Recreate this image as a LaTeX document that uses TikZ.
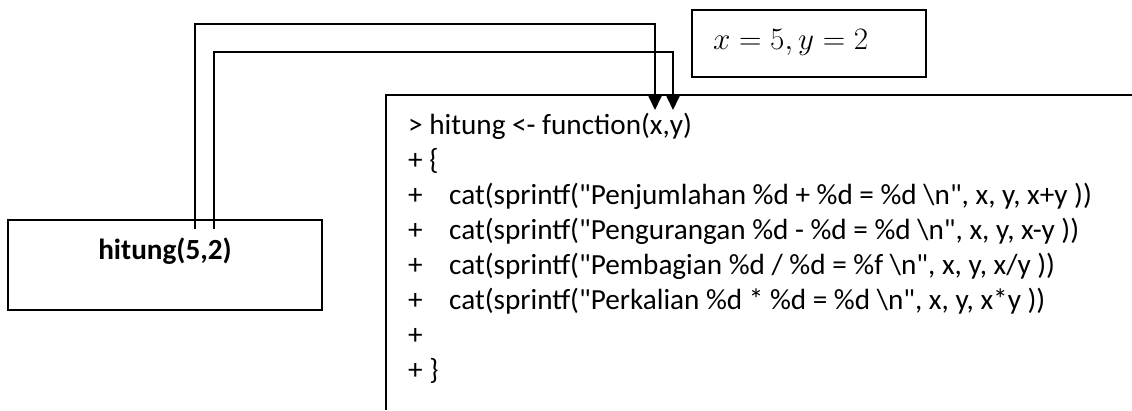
\documentclass[tikz,border=0pt]{standalone}
\usepackage{graphicx}
\usepackage{fontspec}
\setmainfont{Carlito}
\usetikzlibrary{arrows.meta}

\begin{document}
\begin{tikzpicture}[x=1pt,y=-1pt,
  frame/.style={draw, line width=1.6pt, inner sep=0pt},
  txt/.style={inner sep=0pt, font=\fontsize{29.2}{35}\selectfont},
  codeline/.style={txt, anchor=base west},
  link/.style={line width=1.8pt, -{Triangle[length=14pt,width=13pt]}}]
\useasboundingbox (0,0) rectangle (1132,410);

% caller box
\node[frame, minimum width=314pt, minimum height=90pt] (call) at (165,265) {};
\node[txt, anchor=base] (calltext) at (165,259) {\bfseries hitung(5,2)};

% argument values
\node[frame, minimum width=234pt, minimum height=67pt] (vals) at (809,43.5) {};
\node[inner sep=0pt, anchor=base west, font=\fontsize{24.88}{30}\selectfont] (valtext) at (713,49) {\resizebox{155pt}{!}{$x = 5, y = 2$}};

% function definition panel (open on the right and bottom)
\coordinate (panelTR) at (1132,95);
\coordinate (panelBL) at (386,410);
\draw[line width=1.6pt] (panelTR) -| (panelBL);

\newcommand\plusmark{\makebox[41pt][l]{+}}
\newcommand\dq{\textquotedbl}
\node[codeline] (r1) at (408,134) {> hitung <- function(x,y)};
\node[codeline] (r2) at (408,169) {+ \{};
\node[codeline] (r3) at (408,204) {\plusmark cat(sprintf(\dq Penjumlahan \%d + \%d = \%d \textbackslash n\dq, x, y, x+y ))};
\node[codeline] (r4) at (408,239) {\plusmark cat(sprintf(\dq Pengurangan \%d - \%d = \%d \textbackslash n\dq, x, y, x-y ))};
\node[codeline] (r5) at (408,274) {\plusmark cat(sprintf(\dq Pembagian \%d / \%d = \%f \textbackslash n\dq, x, y, x/y ))};
\node[codeline] (r6) at (408,309) {\plusmark cat(sprintf(\dq Perkalian \%d * \%d = \%d \textbackslash n\dq, x, y, x*y ))};
\node[codeline] (r7) at (408,344) {+};
\node[codeline] (r8) at (408,379) {+ \}};

% parameter targets
\coordinate (xin) at (655,110);
\coordinate (yin) at (673,110);
\coordinate (xs) at ([xshift=30pt,yshift=-10pt]call.north);
\coordinate (ys) at ([xshift=49pt,yshift=-10pt]call.north);

\draw[link] (xs) -- (xs |- 0,24) -| (xin);
\draw[link] (ys) -- (ys |- 0,52) -| (yin);
\end{tikzpicture}
\end{document}
